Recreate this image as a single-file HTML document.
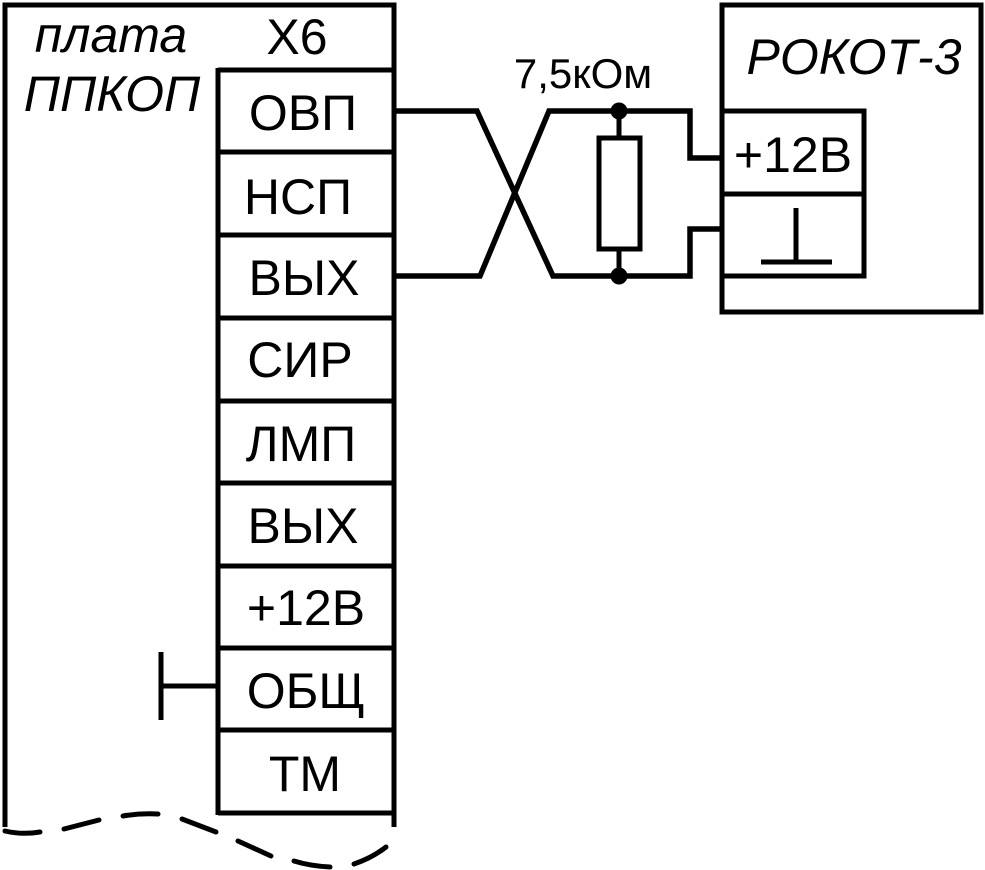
<!DOCTYPE html>
<html>
<head>
<meta charset="utf-8">
<style>
html,body{margin:0;padding:0;background:#fff;width:985px;height:870px;overflow:hidden}
svg{display:block}
text{font-family:"Liberation Sans",sans-serif;fill:#000}
</style>
</head>
<body>
<svg width="985" height="870" viewBox="0 0 985 870" xmlns="http://www.w3.org/2000/svg">
<g fill="none" stroke="#000" stroke-width="5">
  <path d="M5 827V5H394V827" stroke-linecap="butt"/>
  <path d="M218 70H394M218 152H394M218 235H394M218 318H394M218 401H394M218 483H394M218 566H394M218 648H394M218 730H394M218 813H394"/>
  <path d="M218 68V815"/>
  <path d="M161 652V720M161 686H218"/>
  <!-- dashed bottom -->
  <g stroke-width="5" stroke-linecap="round">
    <path d="M5 831Q22 835 40 832"/>
    <path d="M64 829L99 820"/>
    <path d="M123 816Q140 813 158 814"/>
    <path d="M182 819L216 832"/>
    <path d="M238 841L271 856"/>
    <path d="M294 861Q310 866 330 867"/>
    <path d="M354 864Q372 858 386 847"/>
  </g>
  <!-- wires -->
  <path d="M394 111H477L553 276H690V229H722" stroke-width="5.5" stroke-linejoin="miter"/>
  <path d="M394 276H480L549 111H690V158H722" stroke-width="5.5" stroke-linejoin="miter"/>
  <path d="M619 111V138M619 249V276"/>
  <rect x="599" y="138" width="41" height="111"/>
  <!-- right box -->
  <rect x="722" y="5" width="259" height="307"/>
  <path d="M722 111H864V276H722M722 194H864"/>
  <path d="M796 208V262M761 262H832"/>
</g>
<circle cx="619" cy="111" r="8.5"/>
<circle cx="619" cy="276" r="8.5"/>
<g font-size="50" text-anchor="middle">
  <text x="303" y="130">ОВП</text>
  <text x="298" y="214">НСП</text>
  <text x="304" y="295">ВЫХ</text>
  <text x="300" y="377">СИР</text>
  <text x="301" y="461">ЛМП</text>
  <text x="303" y="543">ВЫХ</text>
  <text x="306" y="625">+12В</text>
  <text x="306" y="708">ОБЩ</text>
  <text x="305" y="791">ТМ</text>
  <text x="297" y="54">Х6</text>
  <text x="793" y="172">+12В</text>
</g>
<text x="583" y="88" font-size="42" text-anchor="middle">7,5кОм</text>
<g font-size="50" font-style="italic" text-anchor="middle">
  <text x="111" y="52">плата</text>
  <text x="112" y="111">ППКОП</text>
  <text x="854" y="74">РОКОТ-3</text>
</g>
</svg>
</body>
</html>
